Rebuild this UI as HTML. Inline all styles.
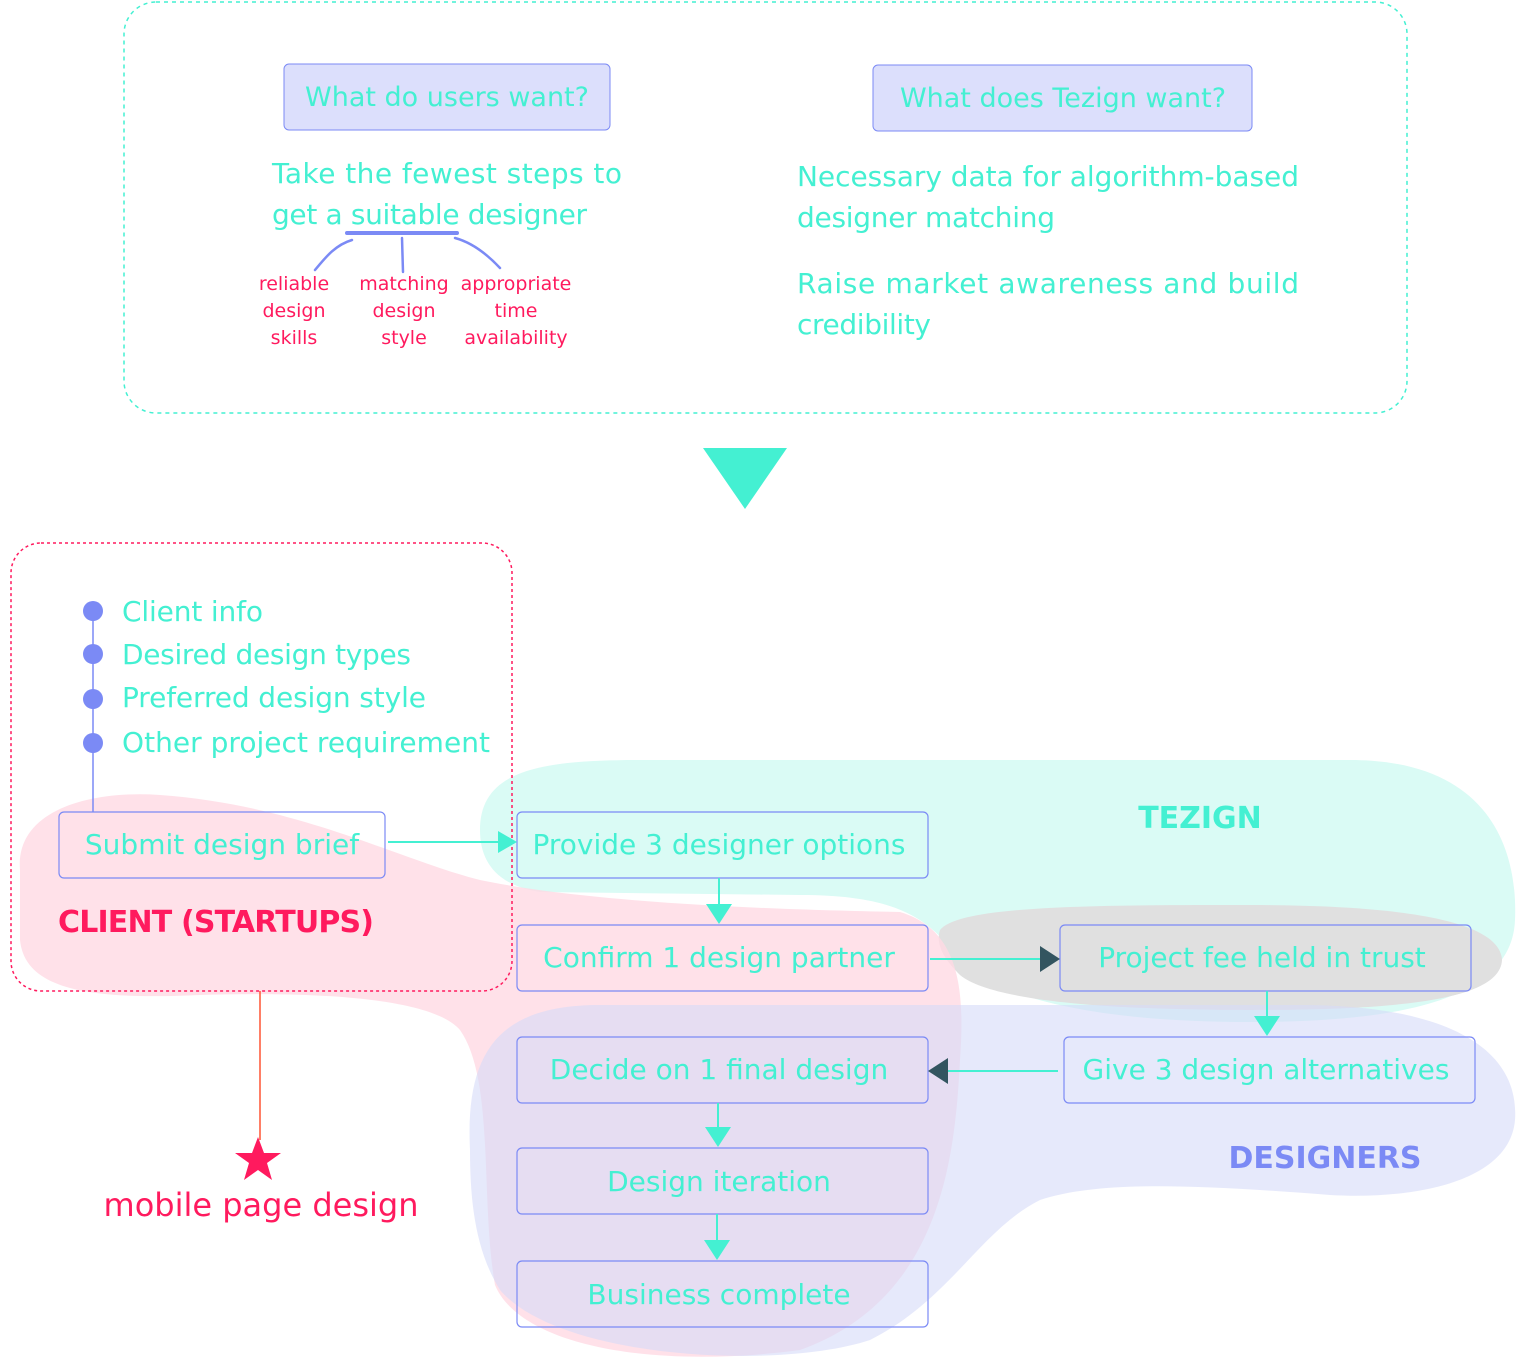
<!DOCTYPE html>
<html><head><meta charset="utf-8"><style>
html,body{margin:0;padding:0;background:#fff}
svg{display:block}
text{font-family:"DejaVu Sans","Liberation Sans",sans-serif}
.t{fill:#44f0d2}
.p{fill:#ff1a5e}
</style></head><body>
<svg width="1519" height="1359" viewBox="0 0 1519 1359" xmlns="http://www.w3.org/2000/svg">
<!-- blobs -->
<path d="M480,830 C480,770 540,760 640,760 L1350,760 C1490,760 1518,850 1515,920 C1512,1000 1400,1022 1250,1022 C1100,1022 1000,1000 960,960 C930,920 900,895 800,895 L540,892 C495,885 480,860 480,830Z" fill="#dafbf5"/>
<path d="M940,930 C960,905 1100,905 1250,905 C1400,905 1500,920 1502,960 C1500,1000 1400,1010 1250,1010 C1100,1010 990,1000 960,975 C945,960 935,945 940,930Z" fill="#e0e0e0"/>
<path d="M20,870 C15,810 90,790 160,795 C300,805 400,860 480,880 C600,905 800,910 900,912 C960,930 965,990 960,1060 C955,1160 940,1300 800,1350 C650,1370 520,1345 495,1285 C480,1200 495,1080 460,1030 C430,995 300,992 200,995 C90,1000 25,990 20,940 Z" fill="#ffd9e3" opacity="0.8"/>
<path d="M470,1150 C465,1050 500,1005 600,1005 L1300,1005 C1450,1005 1520,1050 1515,1120 C1510,1180 1420,1200 1330,1195 C1200,1185 1100,1180 1040,1200 C980,1230 950,1300 870,1340 C780,1370 560,1360 500,1290 C475,1250 470,1200 470,1150Z" fill="#d6daf9" opacity="0.6"/>

<!-- top dashed box -->
<rect x="124" y="2" width="1283" height="411" rx="32" fill="none" stroke="#44f0d2" stroke-width="1.5" stroke-dasharray="4,4"/>
<rect x="284" y="64" width="326" height="66" rx="5" fill="#dcdffc" stroke="#7b8af5"/>
<text x="447" y="106" class="t" font-size="27" text-anchor="middle">What do users want?</text>
<rect x="873" y="65" width="379" height="66" rx="5" fill="#dcdffc" stroke="#7b8af5"/>
<text x="1063" y="107" class="t" font-size="27" text-anchor="middle">What does Tezign want?</text>
<text x="272" y="183" class="t" font-size="28" textLength="350">Take the fewest steps to</text>
<text x="272" y="224" class="t" font-size="28" textLength="315">get a suitable designer</text>
<path d="M347,233 L457,233" stroke="#7b8af5" stroke-width="4" stroke-linecap="round"/>
<path d="M352,240 C335,245 325,258 315,270 M402,238 L403,272 M455,238 C470,242 485,252 500,268" stroke="#7b8af5" stroke-width="2.5" fill="none" stroke-linecap="round"/>
<g class="p" font-size="19" text-anchor="middle">
<text x="294" y="290">reliable</text><text x="294" y="317">design</text><text x="294" y="344">skills</text>
<text x="404" y="290">matching</text><text x="404" y="317">design</text><text x="404" y="344">style</text>
<text x="516" y="290">appropriate</text><text x="516" y="317">time</text><text x="516" y="344">availability</text>
</g>
<text x="797" y="186" class="t" font-size="28" textLength="502">Necessary data for algorithm-based</text>
<text x="797" y="227" class="t" font-size="28" textLength="258">designer matching</text>
<text x="797" y="293" class="t" font-size="28" textLength="502">Raise market awareness and build</text>
<text x="797" y="334" class="t" font-size="28" textLength="134">credibility</text>

<polygon points="703,448 787,448 745,509" fill="#44f0d2"/>

<!-- client box -->
<rect x="11" y="543" width="501" height="448" rx="30" fill="none" stroke="#ff1a5e" stroke-width="1.5" stroke-dasharray="3,3"/>
<line x1="93" y1="611" x2="93" y2="812" stroke="#7b8af5" stroke-width="1.5"/>
<g fill="#7b8af5"><circle cx="93" cy="611" r="10"/><circle cx="93" cy="654" r="10"/><circle cx="93" cy="699" r="10"/><circle cx="93" cy="743" r="10"/></g>
<g class="t" font-size="28">
<text x="122" y="621" textLength="141">Client info</text>
<text x="122" y="664" textLength="289">Desired design types</text>
<text x="122" y="707" textLength="304">Preferred design style</text>
<text x="122" y="752" textLength="368">Other project requirement</text>
</g>
<text x="58" y="932" class="p" font-size="30" font-family="'DejaVu Sans',sans-serif" textLength="317" font-weight="bold" style="letter-spacing:1px">CLIENT (STARTUPS)</text>
<text x="1200" y="828" fill="#44f0d2" font-size="30" font-weight="bold" text-anchor="middle">TEZIGN</text>
<text x="1325" y="1168" fill="#7b8af5" font-size="30" font-weight="bold" text-anchor="middle">DESIGNERS</text>

<line x1="260" y1="991" x2="260" y2="1140" stroke="#ff5533" stroke-width="1.5"/>
<polygon points="258,1137 264,1153 281,1153 267,1163 272,1180 258,1170 244,1180 249,1163 235,1153 252,1153" fill="#ff1a5e"/>
<text x="261" y="1216" class="p" font-size="32" text-anchor="middle">mobile page design</text>

<!-- boxes -->
<g fill="none" stroke="#7b8af5" stroke-width="1.2">
<rect x="59" y="812" width="326" height="66" rx="5"/>
<rect x="517" y="812" width="411" height="66" rx="5"/>
<rect x="517" y="925" width="411" height="66" rx="5"/>
<rect x="1060" y="925" width="411" height="66" rx="5"/>
<rect x="1064" y="1037" width="411" height="66" rx="5"/>
<rect x="517" y="1037" width="411" height="66" rx="5"/>
<rect x="517" y="1148" width="411" height="66" rx="5"/>
<rect x="517" y="1261" width="411" height="66" rx="5"/>
</g>
<g class="t" font-size="28" text-anchor="middle">
<text x="222" y="854">Submit design brief</text>
<text x="719" y="854">Provide 3 designer options</text>
<text x="719" y="967">Confirm 1 design partner</text>
<text x="1262" y="967">Project fee held in trust</text>
<text x="1266" y="1079">Give 3 design alternatives</text>
<text x="719" y="1079">Decide on 1 final design</text>
<text x="719" y="1191">Design iteration</text>
<text x="719" y="1304">Business complete</text>
</g>
<!-- connectors -->
<g stroke="#44f0d2" stroke-width="2">
<line x1="388" y1="842" x2="500" y2="842"/>
<line x1="719" y1="878" x2="719" y2="905"/>
<line x1="930" y1="959" x2="1042" y2="959"/>
<line x1="1267" y1="991" x2="1267" y2="1018"/>
<line x1="1058" y1="1071" x2="948" y2="1071"/>
<line x1="718" y1="1103" x2="718" y2="1128"/>
<line x1="717" y1="1214" x2="717" y2="1241"/>
</g>
<g fill="#44f0d2">
<polygon points="498,831 517,842 498,853"/>
<polygon points="706,904 732,904 719,924"/>
<polygon points="1254,1016 1280,1016 1267,1036"/>
<polygon points="705,1127 731,1127 718,1147"/>
<polygon points="704,1240 730,1240 717,1260"/>
</g>
<g fill="#335560">
<polygon points="1040,946 1060,959 1040,972"/>
<polygon points="948,1058 928,1071 948,1084"/>
</g>
</svg>
</body></html>
